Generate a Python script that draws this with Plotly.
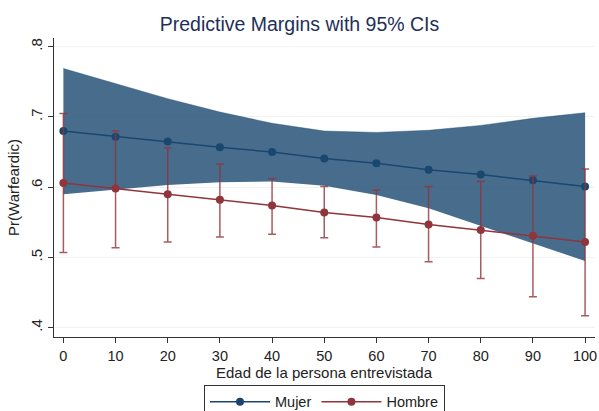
import plotly.graph_objects as go

edad = [0, 10, 20, 30, 40, 50, 60, 70, 80, 90, 100]

mujer = [0.680, 0.672, 0.665, 0.657, 0.650, 0.641, 0.634, 0.625, 0.618, 0.610, 0.601]
mujer_hi = [0.769, 0.748, 0.726, 0.707, 0.691, 0.680, 0.678, 0.681, 0.688, 0.698, 0.706]
mujer_lo = [0.590, 0.596, 0.603, 0.607, 0.608, 0.602, 0.589, 0.570, 0.545, 0.520, 0.495]

hombre = [0.606, 0.598, 0.590, 0.582, 0.574, 0.564, 0.557, 0.547, 0.539, 0.531, 0.522]
hombre_hi = [0.705, 0.680, 0.656, 0.633, 0.6125, 0.601, 0.596, 0.601, 0.608, 0.616, 0.626]
hombre_lo = [0.507, 0.514, 0.522, 0.529, 0.533, 0.528, 0.515, 0.494, 0.470, 0.444, 0.417]

ytick_vals = [0.4, 0.5, 0.6, 0.7, 0.8]
ytick_text = [".4", ".5", ".6", ".7", ".8"]
xtick_vals = edad

NAVY = "#1a476f"
MAROON = "#90353b"
FONT = "Liberation Sans, Arial, sans-serif"

fig = go.Figure()

# CI band for Mujer
fig.add_trace(go.Scatter(x=edad, y=mujer_lo, mode="lines", line=dict(width=0, color=NAVY),
                         showlegend=False, hoverinfo="skip"))
fig.add_trace(go.Scatter(x=edad, y=mujer_hi, mode="lines", line=dict(width=0.5, color="rgba(26,71,111,0.8)"),
                         fill="tonexty", fillcolor="rgba(26,71,111,0.8)",
                         showlegend=False, hoverinfo="skip"))

fig.add_trace(go.Scatter(x=edad, y=mujer, mode="lines+markers", name="Mujer",
                         line=dict(color=NAVY, width=1.5),
                         marker=dict(color=NAVY, size=8)))

fig.add_trace(go.Scatter(x=edad, y=hombre, mode="lines+markers", name="Hombre",
                         line=dict(color=MAROON, width=1.5),
                         marker=dict(color=MAROON, size=8),
                         error_y=dict(type="data", symmetric=False,
                                      array=[h - m for h, m in zip(hombre_hi, hombre)],
                                      arrayminus=[m - l for m, l in zip(hombre, hombre_lo)],
                                      color="rgba(144,53,59,0.8)", thickness=1.5, width=4)))

fig.update_layout(
    width=599, height=411,
    margin=dict(l=54, r=4, t=38, b=74, autoexpand=False),
    paper_bgcolor="white", plot_bgcolor="white",
    font=dict(family=FONT, color="#222222", size=15),
    title=dict(text="Predictive Margins with 95% CIs", x=0.5, xanchor="center",
               y=1 - 24 / 411, yanchor="middle", yref="container",
               font=dict(size=19.5, color="#1e2f5a", family=FONT)),
    showlegend=True,
    legend=dict(orientation="h", x=0.5, xanchor="center", y=-0.16, yanchor="top",
                traceorder="normal",
                bordercolor="#333333", borderwidth=1, bgcolor="white",
                font=dict(size=14.5, color="#222222", family=FONT),
                itemwidth=60, tracegroupgap=0),
    annotations=[dict(text="Edad de la persona entrevistada", x=0.5, xref="paper",
                      y=-0.12, yref="paper", xanchor="center", yanchor="middle",
                      showarrow=False, font=dict(size=15, color="#222222", family=FONT))],
)

fig.update_xaxes(range=[-1.8, 101.9], tickvals=xtick_vals, ticks="outside", ticklen=5,
                 tickcolor="#333333", showline=True, linecolor="#333333", linewidth=1.2,
                 showgrid=False, zeroline=False, tickfont=dict(size=14.5, color="#222222"))
fig.update_yaxes(range=[0.3868, 0.8124], tickvals=ytick_vals, ticktext=ytick_text,
                 tickangle=-90, ticks="outside", ticklen=5, tickcolor="#333333",
                 showline=True, linecolor="#333333", linewidth=1.2,
                 showgrid=True, gridcolor="#f2f2f2", gridwidth=1, zeroline=False,
                 tickfont=dict(size=15, color="#222222"),
                 title=dict(text="Pr(Warfeardic)", standoff=4,
                            font=dict(size=15, color="#222222")))

fig.write_html("out.html")
